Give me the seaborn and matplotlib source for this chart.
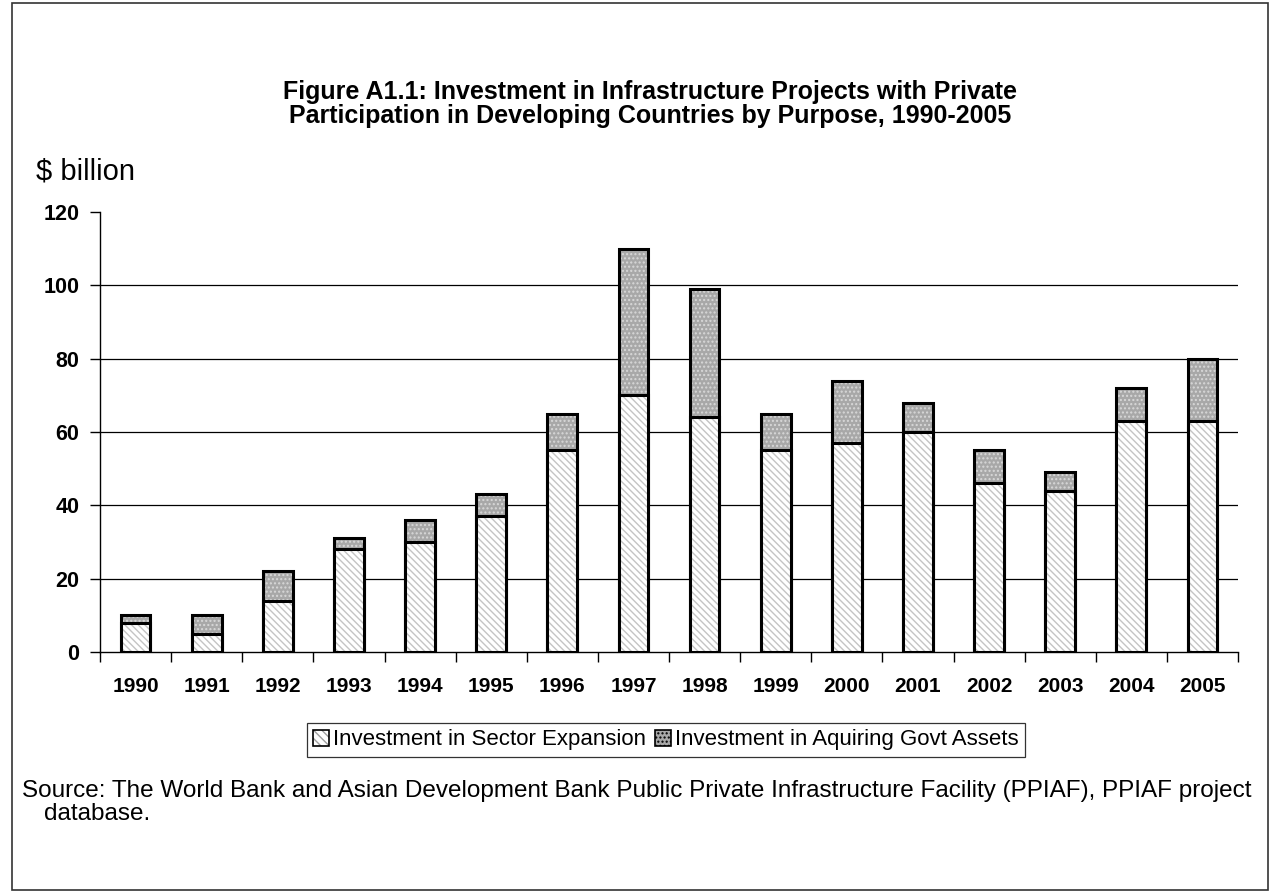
import matplotlib
matplotlib.use("Agg")
import matplotlib.pyplot as plt
import seaborn as sns
import pandas as pd
from matplotlib.patches import Rectangle, Patch

years = ["1990", "1991", "1992", "1993", "1994", "1995", "1996", "1997",
         "1998", "1999", "2000", "2001", "2002", "2003", "2004", "2005"]
sector_expansion = [8, 5, 14, 28, 30, 37, 55, 70, 64, 55, 57, 60, 46, 44, 63, 63]
govt_assets = [2, 5, 8, 3, 6, 6, 10, 40, 35, 10, 17, 8, 9, 5, 9, 17]
totals = [a + b for a, b in zip(sector_expansion, govt_assets)]
y_ticks = [0, 20, 40, 60, 80, 100, 120]

sns.set_theme(style="white")
plt.rcParams['font.family'] = ['Liberation Sans', 'DejaVu Sans']
plt.rcParams['text.color'] = 'black'
plt.rcParams['xtick.color'] = 'black'
plt.rcParams['ytick.color'] = 'black'
plt.rcParams['xtick.labelcolor'] = 'black'
plt.rcParams['ytick.labelcolor'] = 'black'
plt.rcParams['hatch.linewidth'] = 1.0

df = pd.DataFrame({"year": years, "sector": sector_expansion, "total": totals})

fig = plt.figure(figsize=(12.72, 8.92), dpi=100)
ax = fig.add_axes([100/1272, 1-652/892, (1238-100)/1272, (652-212)/892])

for y in y_ticks[1:-1]:
    ax.axhline(y, color="black", lw=0.9, zorder=0)

sns.barplot(data=df, x="year", y="total", ax=ax, color="#a8a8a8", width=0.42,
            edgecolor="black", linewidth=2.2, saturation=1, zorder=2)
n_first = len(ax.patches)
for p in ax.patches:
    p.set_hatch("....")
sns.barplot(data=df, x="year", y="sector", ax=ax, color="white", width=0.42,
            edgecolor="black", linewidth=2.2, saturation=1, zorder=3)
for p in ax.patches[n_first:]:
    p.set_hatch("\\\\\\\\\\")
    p.set_edgecolor("black")

for p in ax.patches[n_first:]:
    p._hatch_color = matplotlib.colors.to_rgba("#c4c4c4")
for p in ax.patches[:n_first]:
    p._hatch_color = matplotlib.colors.to_rgba("#d8d8d8")

ax.set_ylim(0, 120)
ax.set_xlim(-0.5, 15.5)
ax.set_yticks(y_ticks)
ax.set_yticklabels([str(v) for v in y_ticks], fontsize=15.5, fontweight="bold")
ax.set_xticks(range(len(years)))
ax.set_xticklabels(years, fontsize=15, fontweight="bold")
ax.set_xticks([i - 0.5 for i in range(len(years) + 1)], minor=True)
ax.tick_params(axis="x", which="major", length=0, pad=18)
ax.tick_params(axis="x", which="minor", length=7, width=1, color="black", direction="out", bottom=True)
ax.tick_params(axis="y", length=7, width=1, color="black", direction="out", left=True, pad=8)
ax.set_xlabel("")
ax.set_ylabel("")
for s in ["top", "right"]:
    ax.spines[s].set_visible(False)
for s in ["left", "bottom"]:
    ax.spines[s].set_visible(True)
    ax.spines[s].set_color("black")
    ax.spines[s].set_linewidth(1.0)

fig.text(650/1272, 1-92/892, "Figure A1.1: Investment in Infrastructure Projects with Private",
         ha="center", va="center", fontsize=18, fontweight="bold")
fig.text(650/1272, 1-116/892, "Participation in Developing Countries by Purpose, 1990-2005",
         ha="center", va="center", fontsize=18, fontweight="bold")
fig.text(36/1272, 1-172/892, "$ billion", ha="left", va="center", fontsize=21)

h1 = Patch(facecolor="white", edgecolor="black", hatch="\\\\\\\\", linewidth=1.2)
h1._hatch_color = matplotlib.colors.to_rgba("#a0a0a0")
h2 = Patch(facecolor="#a8a8a8", edgecolor="black", hatch="....", linewidth=1.2)
leg = fig.legend([h1, h2], ["Investment in Sector Expansion", "Investment in Aquiring Govt Assets"],
                 loc="center", bbox_to_anchor=(666/1272, 1-740/892), ncol=2, fontsize=16,
                 frameon=True, fancybox=False, edgecolor="black", handlelength=0.7,
                 handleheight=0.7, handletextpad=0.2, columnspacing=0.4, borderpad=0.3)
leg.get_frame().set_linewidth(0.9)

fig.text(22/1272, 1-791/892,
         "Source: The World Bank and Asian Development Bank Public Private Infrastructure Facility (PPIAF), PPIAF project",
         ha="left", va="center", fontsize=17.5)
fig.text(44/1272, 1-814/892, "database.", ha="left", va="center", fontsize=17.5)

fig.patches.append(Rectangle((12/1272, 2/892), 1256/1272, 887/892, transform=fig.transFigure,
                             fill=False, edgecolor="#333333", linewidth=1.2))

fig.savefig("out.png", dpi=100, facecolor="white")
